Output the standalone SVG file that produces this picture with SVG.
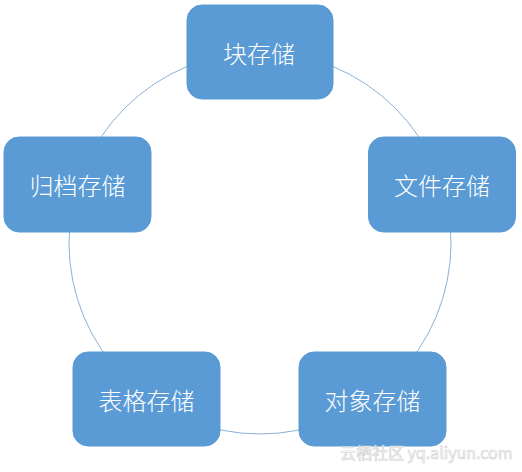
<svg xmlns="http://www.w3.org/2000/svg" width="522" height="472" viewBox="0 0 522 472">
  <style>
    .box { fill: #5b9bd5; stroke: #5b9bd5; stroke-width: 1; }
    .lbl { fill: #ffffff; font-family: "Noto Sans CJK SC", "Microsoft YaHei", sans-serif; font-size: 24px; font-weight: 300; text-anchor: middle; dominant-baseline: central; }
    .ring { fill: none; stroke: #80a6d3; stroke-width: 0.9; }
    .wm { fill: #ffffff; stroke: #d4d4d4; stroke-width: 0.7; font-family: "Noto Sans CJK SC", "Liberation Sans", sans-serif; font-size: 16px; }
  </style>
  <rect width="522" height="472" fill="#ffffff"/>
  <g id="connectors">
    <circle class="ring" cx="260" cy="243" r="191"/>
  </g>
  <g id="block">
    <rect class="box" x="187" y="5" width="146" height="94" rx="15"/>
    <text class="lbl" x="259" y="52">块存储</text>
  </g>
  <g id="file">
    <rect class="box" x="368.5" y="137" width="147" height="95" rx="15"/>
    <text class="lbl" x="442" y="184.5">文件存储</text>
  </g>
  <g id="object">
    <rect class="box" x="299" y="352" width="147" height="94" rx="15"/>
    <text class="lbl" x="372.5" y="399">对象存储</text>
  </g>
  <g id="table">
    <rect class="box" x="73" y="352" width="147" height="94" rx="15"/>
    <text class="lbl" x="146.5" y="399">表格存储</text>
  </g>
  <g id="archive">
    <rect class="box" x="4" y="137" width="147" height="95" rx="15"/>
    <text class="lbl" x="77.5" y="184.5">归档存储</text>
  </g>
  <text class="wm" x="340" y="459">云栖社区 yq.aliyun.com</text>
</svg>
